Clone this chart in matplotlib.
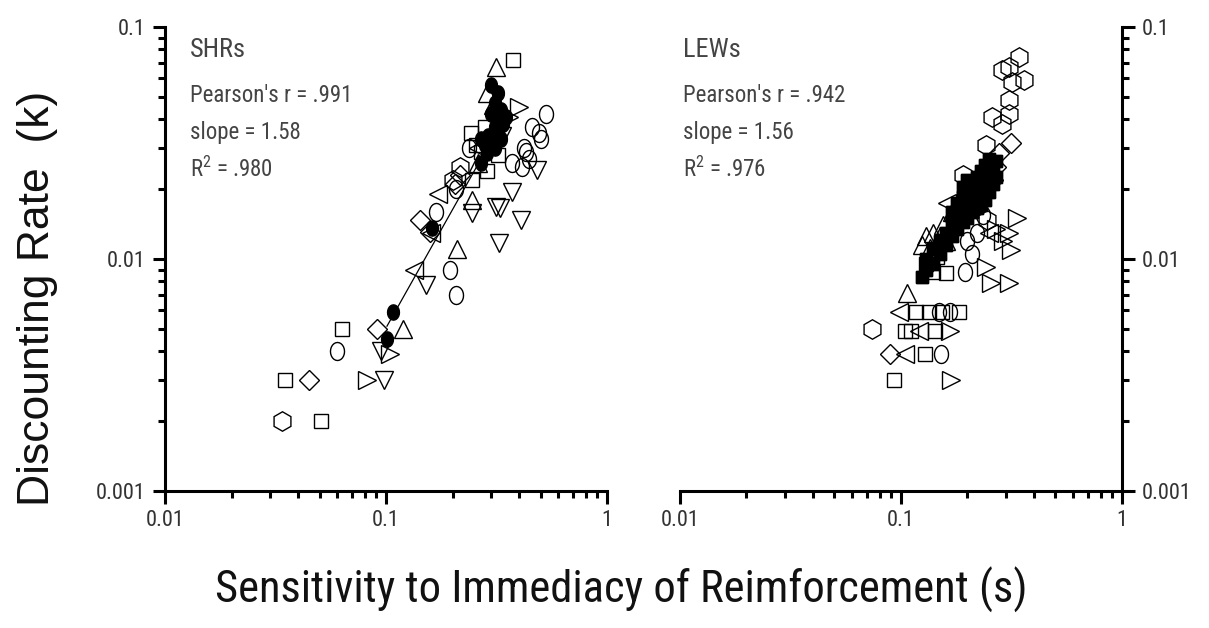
import matplotlib
matplotlib.use("Agg")
import numpy as np
import matplotlib.pyplot as plt
from matplotlib import font_manager
from matplotlib.ticker import LogLocator, NullFormatter, FixedFormatter, FixedLocator

# ---- data: (sensitivity s, discounting rate k) ----
# SHRs (left panel)
shr_square = [(0.035, 0.003), (0.051, 0.002), (0.063, 0.005), (0.376, 0.072),
              (0.243, 0.035), (0.246, 0.022), (0.287, 0.024), (0.255, 0.031),
              (0.28, 0.037), (0.30, 0.031), (0.32, 0.028), (0.27, 0.029)]
shr_diamond = [(0.045, 0.003), (0.091, 0.005), (0.142, 0.0147), (0.158, 0.0131),
               (0.215, 0.023), (0.205, 0.021)]
shr_tri_up = [(0.315, 0.067), (0.287, 0.052), (0.119, 0.005), (0.21, 0.011),
              (0.246, 0.018), (0.305, 0.046), (0.33, 0.043), (0.26, 0.026)]
shr_tri_down = [(0.098, 0.003), (0.095, 0.004), (0.152, 0.0077), (0.246, 0.0158),
                (0.315, 0.0168), (0.328, 0.0166), (0.409, 0.0147), (0.325, 0.0117),
                (0.483, 0.0242), (0.372, 0.0195), (0.335, 0.034)]
shr_tri_left = [(0.1345, 0.009), (0.171, 0.019), (0.16, 0.013), (0.26, 0.03)]
shr_tri_right = [(0.082, 0.003), (0.104, 0.0039), (0.40, 0.045), (0.36, 0.041)]
shr_hex = [(0.034, 0.002), (0.20, 0.022), (0.215, 0.025)]
shr_oval = [(0.060, 0.004), (0.194, 0.009), (0.208, 0.007), (0.531, 0.042),
            (0.458, 0.037), (0.493, 0.035), (0.504, 0.033), (0.422, 0.030),
            (0.372, 0.026), (0.413, 0.025), (0.444, 0.027), (0.238, 0.030),
            (0.169, 0.016), (0.208, 0.020), (0.43, 0.029)]
shr_mean = [(0.101, 0.0045), (0.107, 0.0059), (0.162, 0.0136), (0.27, 0.026),
            (0.287, 0.0286), (0.30, 0.033), (0.32, 0.036)]
shr_solid = [(0.30, 0.042), (0.31, 0.047), (0.32, 0.040), (0.33, 0.044),
             (0.31, 0.037), (0.29, 0.034), (0.34, 0.038), (0.32, 0.052),
             (0.30, 0.056), (0.28, 0.031), (0.35, 0.041), (0.31, 0.030),
             (0.33, 0.033), (0.27, 0.033)]

# LEWs (right panel)
lew_hex = [(0.343, 0.074), (0.287, 0.065), (0.309, 0.067), (0.361, 0.059),
           (0.319, 0.058), (0.309, 0.0485), (0.309, 0.042), (0.259, 0.041),
           (0.287, 0.038), (0.243, 0.031), (0.19, 0.023), (0.074, 0.005),
           (0.246, 0.0147)]
lew_diamond = [(0.315, 0.0316), (0.279, 0.0286), (0.089, 0.0039), (0.27, 0.025),
               (0.26, 0.022)]
lew_tri_right = [(0.336, 0.015), (0.309, 0.0129), (0.315, 0.0109), (0.243, 0.0092),
                 (0.256, 0.0079), (0.309, 0.0079), (0.166, 0.0049), (0.169, 0.003),
                 (0.29, 0.012), (0.27, 0.0135)]
lew_tri_left = [(0.162, 0.0174), (0.098, 0.0059), (0.104, 0.0039), (0.121, 0.0049),
                (0.25, 0.013)]
lew_tri_up = [(0.106, 0.0071), (0.13, 0.0125), (0.14, 0.013), (0.15, 0.0125),
              (0.16, 0.012), (0.135, 0.0112), (0.145, 0.0118), (0.17, 0.016),
              (0.125, 0.0115), (0.155, 0.014)]
lew_square = [(0.0935, 0.003), (0.128, 0.0039), (0.104, 0.0049), (0.1115, 0.0049),
              (0.142, 0.0049), (0.1175, 0.0059), (0.1345, 0.0059), (0.154, 0.0059),
              (0.184, 0.0059), (0.139, 0.0088), (0.16, 0.0087), (0.13, 0.0095),
              (0.145, 0.0102)]
lew_oval = [(0.149, 0.0059), (0.166, 0.0059), (0.151, 0.0039), (0.194, 0.0088),
            (0.22, 0.013), (0.20, 0.012), (0.236, 0.0155), (0.21, 0.0105)]
lew_solid = [(0.125, 0.0084), (0.13, 0.0090), (0.13, 0.0100), (0.14, 0.0095),
             (0.14, 0.0110), (0.15, 0.0105), (0.15, 0.0120), (0.16, 0.0115),
             (0.16, 0.0130), (0.17, 0.0125), (0.17, 0.0145), (0.17, 0.0160),
             (0.18, 0.0135), (0.18, 0.0155), (0.18, 0.0175), (0.19, 0.0145),
             (0.19, 0.0165), (0.19, 0.0185), (0.19, 0.0205), (0.20, 0.0150),
             (0.20, 0.0175), (0.20, 0.0195), (0.20, 0.0220), (0.21, 0.0160),
             (0.21, 0.0185), (0.21, 0.0210), (0.22, 0.0165), (0.22, 0.0195),
             (0.22, 0.0225), (0.23, 0.0170), (0.23, 0.0200), (0.23, 0.0240),
             (0.24, 0.0180), (0.24, 0.0215), (0.24, 0.0255), (0.25, 0.0195),
             (0.25, 0.0230), (0.25, 0.0270), (0.26, 0.0210), (0.26, 0.0250),
             (0.27, 0.0225), (0.27, 0.0265)]

shr_stats = ["SHRs", "Pearson's r = .991", "slope = 1.58", "R$^{2}$ = .980"]
lew_stats = ["LEWs", "Pearson's r = .942", "slope = 1.56", "R$^{2}$ = .976"]

x_ticks = [0.01, 0.1, 1]
x_ticklabels = ["0.01", "0.1", "1"]
y_ticks = [0.001, 0.01, 0.1]
y_ticklabels = ["0.001", "0.01", "0.1"]


def find_condensed():
    """Look for an installed narrow/condensed sans face (the original uses Arial Narrow)."""
    prefs = ["Liberation Sans Narrow", "Arial Narrow", "Roboto Condensed",
             "Open Sans Condensed", "Noto Sans Condensed", "DejaVu Sans Condensed"]
    entries = [f for f in font_manager.fontManager.ttflist
               if f.style == "normal" and f.weight in (400, "normal", "regular")]
    for p in prefs:
        for f in entries:
            if f.name == p:
                return f
    bad = ("Mono", "Serif", "CJK", "Math", "Symbol", "Emoji")
    for stretch in ("condensed", "semi-condensed"):
        for f in entries:
            if f.stretch == stretch and "Sans" in f.name and not any(b in f.name for b in bad):
                return f
    return None


cond = find_condensed()
if cond is not None:
    NARROW, STRETCH, shrink = cond.name, cond.stretch, 1.0
else:
    NARROW, STRETCH, shrink = "Liberation Sans", "normal", 0.88

plt.rcParams["font.family"] = [NARROW, "DejaVu Sans"]
plt.rcParams["font.stretch"] = STRETCH
plt.rcParams["mathtext.fontset"] = "custom"
plt.rcParams["mathtext.rm"] = f"{NARROW}:stretch={STRETCH}"
plt.rcParams["mathtext.default"] = "regular"

# ellipse-ish marker for the "circle" symbols (drawn taller than wide)
t = np.linspace(0, 2 * np.pi, 25)
oval = list(zip(0.78 * np.cos(t), np.sin(t)))

styles = {
    "square": dict(marker="s", ms=9.5),
    "diamond": dict(marker="D", ms=10),
    "tri_up": dict(marker="^", ms=12.5),
    "tri_down": dict(marker="v", ms=12.5),
    "tri_left": dict(marker="<", ms=12.5),
    "tri_right": dict(marker=">", ms=12.5),
    "hex": dict(marker="h", ms=14),
    "oval": dict(marker=oval, ms=13),
}
solid_styles = {"oval": dict(marker=oval, ms=11), "square": dict(marker="s", ms=8.5)}


def draw_panel(ax, groups, means, solids, solid_marker, stats, text_x):
    for name, pts in groups.items():
        xs, ys = zip(*pts)
        ax.plot(xs, ys, ls="none", mfc="none", mec="black", mew=1.0, **styles[name])
    sx, sy = zip(*solids)
    ax.plot(sx, sy, ls="none", mfc="black", mec="black", mew=1.0, **solid_styles[solid_marker])
    mx, my = np.array(means).T
    ax.plot(mx, my, ls="none", mfc="black", mec="black", mew=1.0, **solid_styles[solid_marker])
    # least squares line in log-log space through the means
    b, a = np.polyfit(np.log10(mx), np.log10(my), 1)
    lx = np.array([mx.min(), mx.max()])
    ax.plot(lx, 10 ** (a + b * np.log10(lx)), color="black", lw=0.9)

    ax.set_xscale("log")
    ax.set_yscale("log")
    ax.set_xlim(0.01, 1)
    ax.set_ylim(0.001, 0.1)
    ax.xaxis.set_major_locator(FixedLocator(x_ticks))
    ax.xaxis.set_major_formatter(FixedFormatter(x_ticklabels))
    ax.yaxis.set_major_locator(FixedLocator(y_ticks))
    ax.yaxis.set_major_formatter(FixedFormatter(y_ticklabels))
    ax.xaxis.set_minor_locator(LogLocator(base=10, subs=np.arange(2, 10)))
    ax.yaxis.set_minor_locator(LogLocator(base=10, subs=np.arange(2, 10)))
    ax.xaxis.set_minor_formatter(NullFormatter())
    ax.yaxis.set_minor_formatter(NullFormatter())
    ax.tick_params(which="major", length=9, width=2.2, direction="out",
                   labelsize=16 * shrink, labelcolor="#333333", pad=5)
    ax.tick_params(which="minor", length=5, width=2.2, direction="out")
    for s in ax.spines.values():
        s.set_linewidth(2.2)
    ax.spines["top"].set_visible(False)

    ys_txt = [0.95, 0.853, 0.773, 0.693]
    sizes = [19, 16.5, 16.5, 16.5]
    for txt, yy, fs in zip(stats, ys_txt, sizes):
        ax.text(text_x, yy, txt, transform=ax.transAxes, fontsize=fs * shrink,
                color="#444444", va="center", ha="left")


fig = plt.figure(figsize=(12.09, 6.28), dpi=100)
fig.patch.set_facecolor("white")
ax1 = fig.add_axes([0.1365, 0.2182, 0.3656, 0.7389])
ax2 = fig.add_axes([0.5624, 0.2182, 0.3656, 0.7389])

draw_panel(ax1,
           {"square": shr_square, "diamond": shr_diamond, "tri_up": shr_tri_up,
            "tri_down": shr_tri_down, "tri_left": shr_tri_left,
            "tri_right": shr_tri_right, "hex": shr_hex, "oval": shr_oval},
           shr_mean, shr_solid, "oval", shr_stats, 0.057)
ax1.spines["right"].set_visible(False)

draw_panel(ax2,
           {"square": lew_square, "diamond": lew_diamond, "tri_up": lew_tri_up,
            "tri_left": lew_tri_left, "tri_right": lew_tri_right,
            "hex": lew_hex, "oval": lew_oval},
           lew_solid, lew_solid, "square", lew_stats, 0.006)
ax2.spines["left"].set_visible(False)
ax2.yaxis.tick_right()
ax2.yaxis.set_label_position("right")

fig.text(0.031, 0.525, "Discounting Rate  (k)", rotation=90, ha="center", va="center",
         fontsize=32, family=["Liberation Sans", "DejaVu Sans"], fontstretch="normal",
         color="#111111")
fig.text(0.514, 0.06, "Sensitivity to Immediacy of Reimforcement (s)", ha="center",
         va="center", fontsize=32 * shrink, color="#111111")

fig.savefig("out.png", dpi=100)
